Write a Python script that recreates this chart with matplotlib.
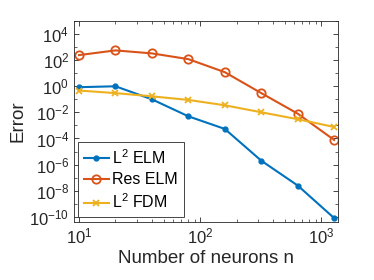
import matplotlib
matplotlib.use('Agg')
import matplotlib.pyplot as plt
from matplotlib.ticker import LogLocator, NullFormatter

plt.rcParams['font.family'] = ['Liberation Sans', 'DejaVu Sans']
plt.rcParams['mathtext.fontset'] = 'custom'
plt.rcParams['mathtext.rm'] = 'Liberation Sans'
plt.rcParams['mathtext.it'] = 'Liberation Sans:italic'

# neurons
n = [10, 20, 40, 80, 160, 320, 640, 1280]

# errors
l2_elm = [0.85, 1.0, 0.1, 5e-3, 5.4e-4, 2e-6, 2.5e-8, 8e-11]
res_elm = [245, 560, 330, 120, 12, 0.3, 8e-3, 7.7e-5]
l2_fdm = [0.47, 0.3, 0.17, 0.09, 0.035, 0.0102, 3e-3, 7.6e-4]

labels = ['L$^2$ ELM', 'Res ELM', 'L$^2$ FDM']

fig = plt.figure(figsize=(3.74, 2.8), dpi=100)
ax = fig.add_axes([0.198, 0.207, 0.706, 0.718])

ax.loglog(n, l2_elm, '.-', color='#0072BD', lw=1.5, ms=7, label=labels[0])
ax.loglog(n, res_elm, 'o-', color='#D95319', lw=1.5, ms=6, mfc='none', mew=1.3, label=labels[1])
ax.loglog(n, l2_fdm, 'x-', color='#EDB120', lw=1.5, ms=4, mew=1.3, label=labels[2])

ax.set_xlim(9.1, 1380)
ax.set_ylim(10**-10.4, 1e5)
ax.set_yticks([10.0**k for k in range(-10, 5, 2)])
ax.yaxis.set_minor_locator(LogLocator(base=10, subs=[1.0], numticks=30))
ax.yaxis.set_minor_formatter(NullFormatter())
ax.xaxis.set_minor_locator(LogLocator(base=10, subs=range(2, 10), numticks=30))
ax.xaxis.set_minor_formatter(NullFormatter())

ax.tick_params(which='both', direction='in', top=True, right=True, colors='#262626', labelsize=12)
ax.tick_params(which='major', length=3.5, width=0.6)
ax.tick_params(which='minor', length=2, width=0.5)
for s in ax.spines.values():
    s.set_color('#262626')
    s.set_linewidth(0.6)

ax.set_xlabel('Number of neurons n', fontsize=13.5, color='#262626', labelpad=2)
ax.set_ylabel('Error', fontsize=13.5, color='#262626', labelpad=2)

leg = ax.legend(loc='lower left', bbox_to_anchor=(0.015, 0.025), borderaxespad=0,
                fontsize=11.5, fancybox=False, edgecolor='#262626', framealpha=1,
                handlelength=1.6, handletextpad=0.2, borderpad=0.35, labelspacing=0.35)
leg.get_frame().set_linewidth(0.6)

fig.savefig('out.png', dpi=100)
